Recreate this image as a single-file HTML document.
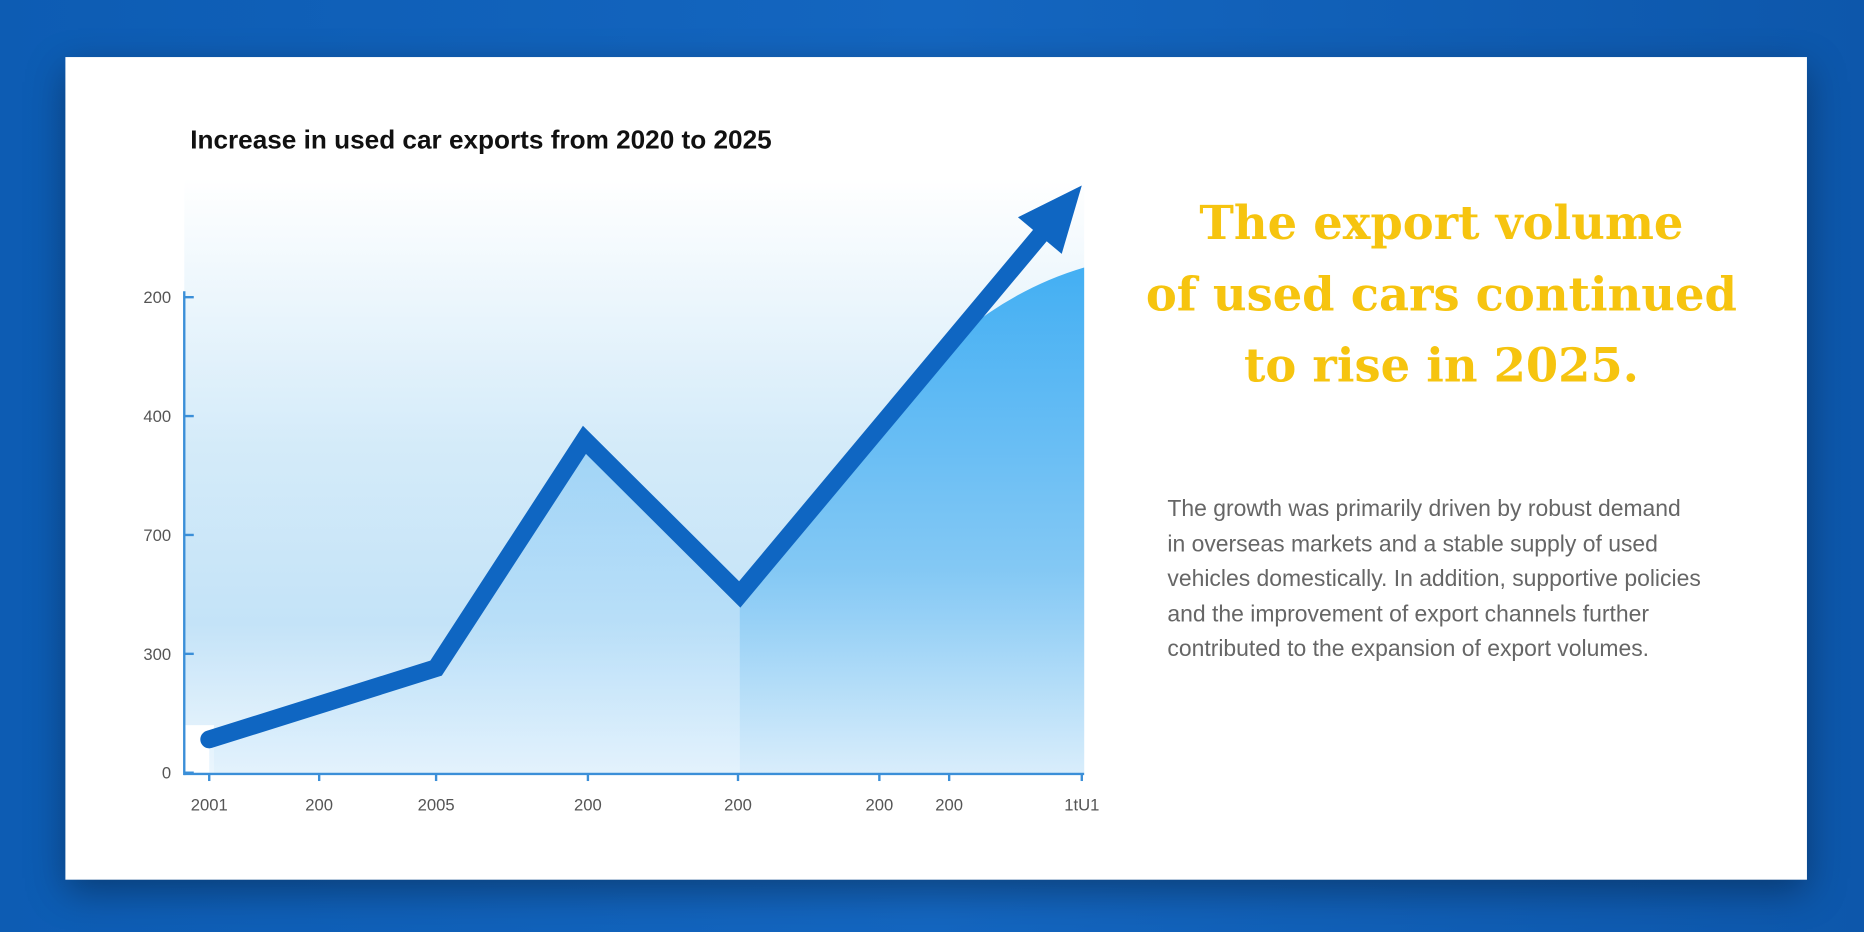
<!DOCTYPE html>
<html><head><meta charset="utf-8"><style>
body{margin:0;width:1864px;height:932px;background:linear-gradient(90deg,#0d5cb3,#1466c0 50%,#0d57ab);overflow:hidden;font-family:"Liberation Sans",sans-serif}
#wrap{position:absolute;left:0;top:0;width:1568px;height:784px;transform:scale(1.18878);transform-origin:0 0}
#card{position:absolute;left:55px;top:48px;width:1465px;height:692px;background:#fff;box-shadow:0 10px 30px rgba(0,0,0,.35)}
#title{position:absolute;left:160px;top:105px;font-size:22px;font-weight:bold;color:#111}
#headline{position:absolute;left:940px;top:158px;width:545px;text-align:center;font-size:39px;line-height:60px;font-weight:bold;color:#f6c40f;font-family:"DejaVu Serif","Liberation Serif",serif;white-space:nowrap}
#para{position:absolute;left:982px;top:414px;font-size:19.3px;line-height:29.5px;color:#666;white-space:nowrap}
svg{position:absolute;left:0;top:0}
</style></head><body>
<div id="wrap">
<div id="card"></div>
<svg width="1568" height="784">
<defs>
<linearGradient id="bg" x1="0" y1="0" x2="0" y2="1"><stop offset="0" stop-color="#fff"/><stop offset=".45" stop-color="#d4ebf9"/><stop offset=".75" stop-color="#c4e3f8"/><stop offset="1" stop-color="#eef7fd"/></linearGradient>
<linearGradient id="ua" x1="0" y1="0" x2="0" y2="1"><stop offset="0" stop-color="#7cc4f4"/><stop offset="1" stop-color="#dcefFC"/></linearGradient>
<linearGradient id="cv" x1="0" y1="0" x2="0" y2="1"><stop offset="0" stop-color="#30a7f2"/><stop offset=".6" stop-color="#7cc5f4"/><stop offset="1" stop-color="#d6ecfb"/></linearGradient>
</defs>
<g id="plot"></g>
</svg>
<div id="title">Increase in used car exports from 2020 to 2025</div>
<div id="headline">The export volume<br>of used cars continued<br>to rise in 2025.</div>
<div id="para">The growth was primarily driven by robust demand<br>in overseas markets and a stable supply of used<br>vehicles domestically. In addition, supportive policies<br>and the improvement of export channels further<br>contributed to the expansion of export volumes.</div>
</div>
<script>
const years=[2020,2021.3,2022.15,2023.04];
const values=[28,88,280,150];
const arrowTip=[2025,494];
const yTicks=[0,100,200,300,400];
const yTickLabels=["0","300","700","400","200"];
const xTicks=[2020,2020.63,2021.3,2022.17,2023.03,2023.84,2024.24,2025];
const xTickLabels=["2001","200","2005","200","200","200","200","1tU1"];
const curveTop=[[2023.6,245],[2025,425]];
const NS="http://www.w3.org/2000/svg";
const X=v=>176+(v-2020)*(910-176)/5;
const Y=v=>650-v;
const g=document.getElementById('plot');
function mk(t,a,p){const e=document.createElementNS(NS,t);for(const k in a)e.setAttribute(k,a[k]);(p||g).appendChild(e);return e;}
let e=mk('rect',{x:155,y:Y(500),width:757,height:500,fill:'url(#bg)'});

e=mk('rect',{x:155,y:Y(40),width:25,height:40,fill:'#fff'});

const c0=curveTop[0],c1=curveTop[1];
const lastX=X(years[years.length-1]),lastY=Y(values[values.length-1]);
let pts=years.map((y,i)=>X(y)+','+Y(values[i])).join(' ');
e=mk('polygon',{points:X(years[0])+','+Y(0)+' '+pts+' '+lastX+','+Y(0),fill:'url(#ua)',opacity:.6});

e=mk('path',{d:`M${lastX},${lastY} L${X(c0[0])},${Y(c0[1])} Q${X(2024.2)},${Y(390)} ${X(c1[0])+2},${Y(c1[1])} L${X(c1[0])+2},${Y(0)} L${lastX},${Y(0)} Z`,fill:'url(#cv)',opacity:.9});

e=mk('line',{x1:155,y1:245,x2:155,y2:652,stroke:'#3b8fd8','stroke-width':2});

e=mk('line',{x1:155,y1:651,x2:912,y2:651,stroke:'#3b8fd8','stroke-width':2});

yTicks.forEach((t,i)=>{
 let l=mk('line',{x1:155,y1:Y(t),x2:163,y2:Y(t),stroke:'#3b8fd8','stroke-width':2});
 
 let s=mk('text',{x:144,y:Y(t)+5,'text-anchor':'end','font-size':14,fill:'#555','font-family':'Liberation Sans'});
 s.textContent=yTickLabels[i];
 
});
xTicks.forEach((t,i)=>{
 let l=mk('line',{x1:X(t),y1:651,x2:X(t),y2:657,stroke:'#3b8fd8','stroke-width':2});
 
 let s=mk('text',{x:X(t),y:682,'text-anchor':'middle','font-size':14,fill:'#555','font-family':'Liberation Sans'});
 s.textContent=xTickLabels[i];
 
});
const tx=X(arrowTip[0]),ty=Y(arrowTip[1]);
const dx=tx-lastX,dy=ty-lastY,len=Math.hypot(dx,dy),ux=dx/len,uy=dy/len;
const bx=tx-ux*55,by=ty-uy*55;
e=mk('polyline',{points:pts+' '+(bx+ux*5)+','+(by+uy*5),fill:'none',stroke:'#0f66c2','stroke-width':15,'stroke-linejoin':'miter','stroke-linecap':'round'});

e=mk('polygon',{points:`${tx},${ty} ${bx-uy*24},${by+ux*24} ${bx+uy*24},${by-ux*24}`,fill:'#0f66c2'});

</script>
</body></html>
